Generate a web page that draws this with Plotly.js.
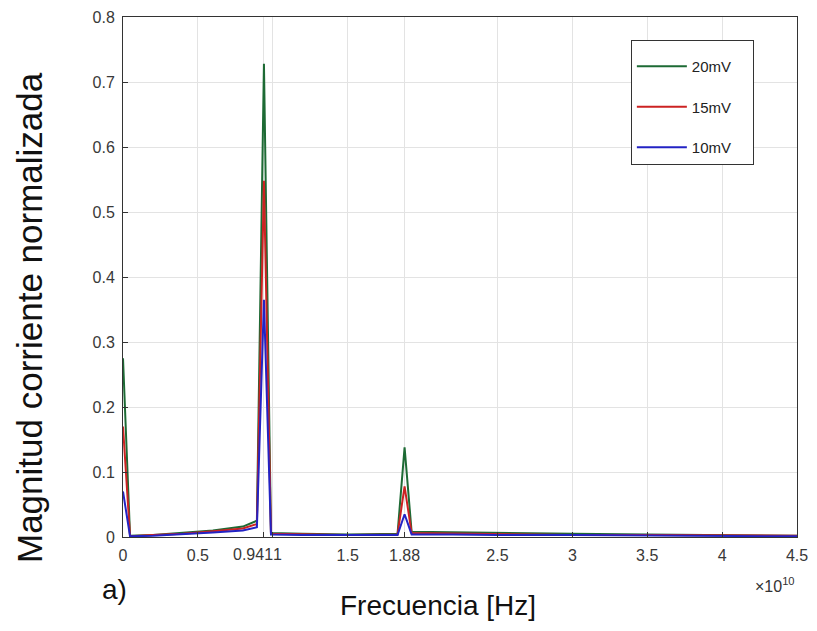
<!DOCTYPE html>
<html>
<head>
<meta charset="utf-8">
<script src="https://cdn.plot.ly/plotly-3.0.1.min.js"></script>
<style>html,body{margin:0;padding:0;background:#fff;}#chart{width:817px;height:631px;}</style>
</head>
<body>
<div id="chart"></div>
<script>
// Frequency samples [Hz]
var freq = [0, 0.047e10, 0.2e10, 0.4e10, 0.6e10, 0.8e10, 0.894e10, 0.941e10, 0.988e10, 1.2e10, 1.5e10, 1.833e10, 1.88e10, 1.927e10, 2.2e10, 2.5e10, 3.0e10, 3.5e10, 4.0e10, 4.5e10];
var mag20 = [0.275, 0.002, 0.003, 0.006, 0.010, 0.016, 0.025, 0.728, 0.006, 0.005, 0.004, 0.005, 0.138, 0.008, 0.007, 0.006, 0.005, 0.004, 0.003, 0.002];
var mag15 = [0.170, 0.001, 0.003, 0.005, 0.009, 0.013, 0.020, 0.548, 0.005, 0.004, 0.003, 0.004, 0.078, 0.006, 0.005, 0.004, 0.003, 0.003, 0.002, 0.002];
var mag10 = [0.070, 0.001, 0.002, 0.004, 0.007, 0.010, 0.015, 0.365, 0.004, 0.003, 0.003, 0.003, 0.035, 0.004, 0.004, 0.003, 0.003, 0.002, 0.002, 0.001];
var seriesNames = ['20mV', '15mV', '10mV'];
var seriesColors = ['#1d6a34', '#cc2222', '#2323c4'];
var xTickVals = [0, 0.5e10, 0.941e10, 1e10, 1.5e10, 1.88e10, 2.5e10, 3e10, 3.5e10, 4e10, 4.5e10];
var xTickText = ['0', '0.5', '0.941', '1', '1.5', '1.88', '2.5', '3', '3.5', '4', '4.5'];

var NB = '\u00a0';
var allY = [mag20, mag15, mag10];
var traces = allY.map(function (y, i) {
  return {
    x: freq, y: y, type: 'scatter', mode: 'lines',
    name: seriesNames[i] + NB + NB + NB + NB, legendgroup: 'g' + i,
    line: {color: seriesColors[i], width: 2}
  };
});

var fam = 'Liberation Sans, Arial, sans-serif';
var tickFont = {family: fam, size: 16, color: '#383838'};

// The two crowded labels (0.941 and 1) are drawn as annotations nudged apart,
// as they appear in the original figure; the others are regular tick labels.
var crowded = {'0.941': -11, '1': 5};
var shownTickText = xTickText.map(function (t) { return (t in crowded) ? '' : t; });
var crowdedAnns = [];
xTickText.forEach(function (t, i) {
  if (t in crowded) {
    crowdedAnns.push({xref: 'x', yref: 'paper', x: xTickVals[i], y: 0, yanchor: 'top', xanchor: 'center',
      xshift: crowded[t], yshift: -7, showarrow: false, text: t, font: tickFont});
  }
});

var layout = {
  width: 817, height: 631,
  margin: {l: 123, r: 20, t: 17, b: 94},
  paper_bgcolor: '#ffffff', plot_bgcolor: '#ffffff',
  showlegend: true,
  legend: {
    x: 0.936, xanchor: 'right', y: 0.956, yanchor: 'top',
    bgcolor: '#ffffff', bordercolor: '#333333', borderwidth: 1,
    font: {family: fam, size: 15, color: '#222222'},
    traceorder: 'grouped', tracegroupgap: 18,
    itemwidth: 50,
    title: {text: NB, font: {family: fam, size: 7}}
  },
  xaxis: {
    range: [0, 4.5e10], tickvals: xTickVals, ticktext: shownTickText, tickangle: 0,
    showgrid: true, gridcolor: '#e3e3e3', gridwidth: 1,
    zeroline: false, showline: true, linecolor: '#333333', linewidth: 1, mirror: true,
    ticks: 'inside', ticklen: 5, tickcolor: '#333333',
    tickfont: tickFont, automargin: false, ticklabelstandoff: 4
  },
  yaxis: {
    range: [0, 0.8], dtick: 0.1, tick0: 0,
    showgrid: true, gridcolor: '#e3e3e3', gridwidth: 1,
    zeroline: false, showline: true, linecolor: '#333333', linewidth: 1, mirror: true,
    ticks: 'inside', ticklen: 5, tickcolor: '#333333',
    tickfont: tickFont, automargin: false, ticklabelstandoff: 4
  },
  annotations: crowdedAnns.concat([
    {xref: 'paper', yref: 'paper', x: -123 / 674 + 30 / 674, y: (537 - 318) / 520, xanchor: 'center', yanchor: 'middle', showarrow: false,
     textangle: -90, text: 'Magnitud corriente normalizada', font: {family: fam, size: 35, color: '#111111'}},
    {xref: 'paper', yref: 'paper', x: (438 - 123) / 674, y: -0.132, xanchor: 'center', yanchor: 'middle', showarrow: false,
     text: 'Frecuencia [Hz]', font: {family: fam, size: 28, color: '#111111'}},
    {xref: 'paper', yref: 'paper', x: 1.0, y: -0.092, xanchor: 'right', yanchor: 'middle', showarrow: false,
     text: '×10<sup>10</sup>', font: {family: fam, size: 16, color: '#333333'}},
    {xref: 'paper', yref: 'paper', x: (114 - 123) / 674, y: -0.1, xanchor: 'center', yanchor: 'middle', showarrow: false,
     text: 'a)', font: {family: fam, size: 28, color: '#111111'}}
  ])
};

Plotly.newPlot('chart', traces, layout, {displayModeBar: false, staticPlot: true});
</script>
</body>
</html>
